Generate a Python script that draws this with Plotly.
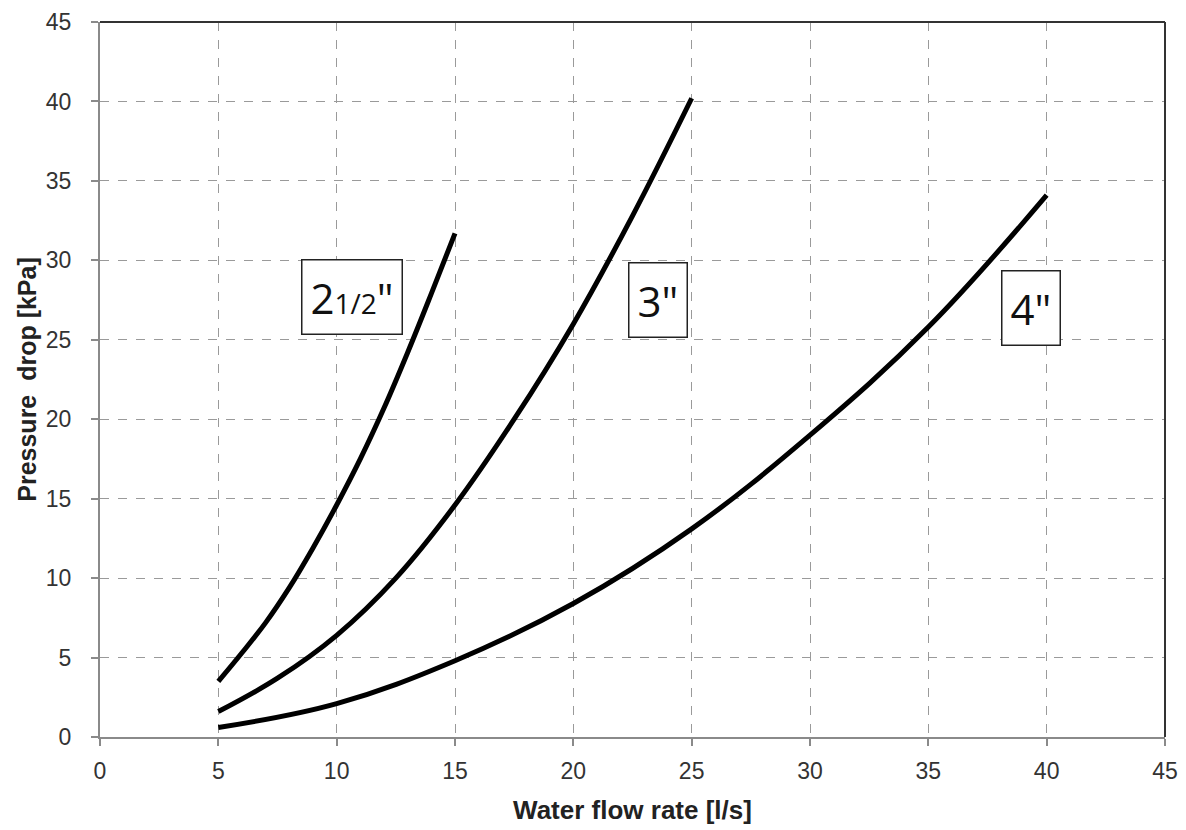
import plotly.graph_objects as go

# Water flow rate [l/s] and pressure drop [kPa]
flow_2_5 = [5, 6, 7, 8, 9, 10, 11, 12, 13, 14, 15]
dp_2_5 = [3.5, 5.3, 7.2, 9.4, 11.9, 14.6, 17.5, 20.7, 24.2, 27.9, 31.7]

flow_3 = [5, 7.5, 10, 12.5, 15, 17.5, 20, 22.5, 25]
dp_3 = [1.6, 3.7, 6.4, 10.0, 14.6, 20.0, 26.0, 32.8, 40.2]

flow_4 = [5, 10, 15, 20, 25, 30, 35, 40]
dp_4 = [0.6, 2.1, 4.8, 8.4, 13.1, 19.0, 25.8, 34.1]

series = [
    (flow_2_5, dp_2_5),
    (flow_3, dp_3),
    (flow_4, dp_4),
]

labels = ['2<span style="font-size:28px">1/2</span>"', '3"', '4"']
label_x = [12.8, 24.85, 40.6]
label_y = [27.7, 27.5, 27.0]

fig = go.Figure()
for fx, dy in series:
    fig.add_trace(go.Scatter(
        x=fx, y=dy, mode="lines",
        line=dict(color="black", width=5, shape="spline", smoothing=1.1),
        showlegend=False, hoverinfo="skip",
    ))

for txt, lx, ly in zip(labels, label_x, label_y):
    fig.add_annotation(
        x=lx, y=ly, text=txt, showarrow=False, xanchor="right", yanchor="middle",
        font=dict(family="Open Sans, DejaVu Sans, sans-serif", size=42, color="#111"),
        bgcolor="white", bordercolor="#222", borderwidth=1.5, borderpad=8,
    )

tick_font = dict(family="Liberation Sans, Arial, sans-serif", size=23, color="#333")
axis_common = dict(
    showgrid=True, gridcolor="#9a9a9a", griddash="dash", gridwidth=1,
    showline=True, linecolor="#8a8a8a", linewidth=2,
    ticks="outside", ticklen=7, tickcolor="#8a8a8a", tickwidth=2,
    zeroline=False, automargin=False,
    tickfont=tick_font,
)

fig.update_xaxes(range=[0, 45], dtick=5, tick0=0, ticklabelstandoff=5,
                 title=dict(text="<b>Water flow rate [l/s]</b>", standoff=18,
                            font=dict(family="Liberation Sans, Arial, sans-serif", size=26, color="#222")),
                 **axis_common)
fig.update_yaxes(range=[0, 45], dtick=5, tick0=0, ticklabelstandoff=15,
                 title=dict(text="<b>Pressure  drop [kPa]</b>", standoff=2,
                            font=dict(family="Liberation Sans, Arial, sans-serif", size=25, color="#222")),
                 **axis_common)

# top and right frame of the plot area
fig.add_shape(type="line", xref="paper", yref="paper", x0=0, x1=1, y0=1, y1=1,
              line=dict(color="#333", width=2))
fig.add_shape(type="line", xref="paper", yref="paper", x0=1, x1=1, y0=0, y1=1,
              line=dict(color="#333", width=2))

fig.update_layout(
    width=1178, height=822,
    margin=dict(l=92, r=21, t=14, b=93),
    plot_bgcolor="white", paper_bgcolor="white",
)

fig.write_html("out.html")
